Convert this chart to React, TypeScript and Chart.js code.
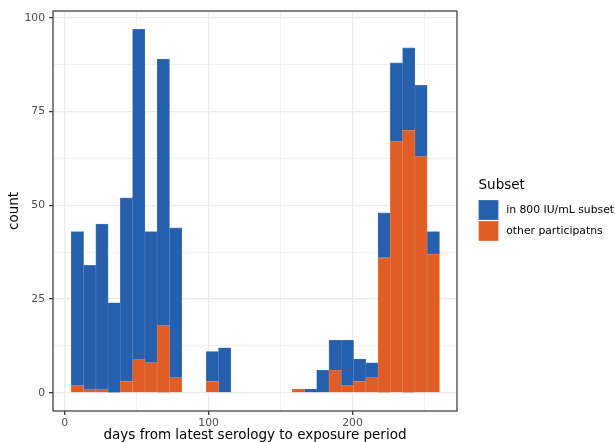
import React, { useEffect, useRef } from 'react';
import { Chart, registerables } from 'chart.js';

Chart.register(...registerables);

// Histogram bin centres (days), 30 bins
const binCenters = [
  8.765, 17.295, 25.825, 34.355, 42.885, 51.415, 59.945, 68.475, 77.005, 85.535,
  94.065, 102.595, 111.125, 119.655, 128.185, 136.715, 145.245, 153.775, 162.305, 170.835,
  179.365, 187.895, 196.425, 204.955, 213.485, 222.015, 230.545, 239.075, 247.605, 256.135,
];
// counts per bin: "other participatns" (bottom of stack)
const otherCounts = [
  2, 1, 1, 0, 3, 9, 8, 18, 4, 0,
  0, 3, 0, 0, 0, 0, 0, 0, 1, 0,
  0, 6, 2, 3, 4, 36, 67, 70, 63, 37,
];
// counts per bin: "in 800 IU/mL subset" (top of stack)
const subsetCounts = [
  41, 33, 44, 24, 49, 88, 35, 71, 40, 0,
  0, 8, 12, 0, 0, 0, 0, 0, 0, 1,
  6, 8, 12, 6, 4, 12, 21, 22, 19, 6,
];
const seriesLabels = ['other participatns', 'in 800 IU/mL subset'];
const xMajorTicks = [0, 100, 200];
const yMajorTicks = [0, 25, 50, 75, 100];

const BLUE = '#2660AC';
const BLUE_EDGE = '#4F7DBB';
const ORANGE = '#E05D26';
const ORANGE_EDGE = '#E8804F';
const FONT = '"DejaVu Sans", "Liberation Sans", sans-serif';

const panelBorder = {
  id: 'panelBorder',
  afterDraw(chart: any) {
    const { ctx, chartArea: a } = chart;
    ctx.save();
    ctx.strokeStyle = '#333333';
    ctx.lineWidth = 1.2;
    ctx.strokeRect(a.left, a.top, a.right - a.left, a.bottom - a.top);
    ctx.restore();
  },
};

const ggLegend = {
  id: 'ggLegend',
  afterDraw(chart: any) {
    const { ctx, chartArea: a } = chart;
    const ds = chart.data.datasets.slice().reverse();
    const x0 = a.right + 21.5;
    const cy = (a.top + a.bottom) / 2;
    ctx.save();
    ctx.textAlign = 'left';
    ctx.textBaseline = 'middle';
    ctx.fillStyle = '#000000';
    ctx.font = `13.5px ${FONT}`;
    ctx.fillText('Subset', x0, cy - 25.3);
    ds.forEach((d: any, i: number) => {
      const top = cy - 11 + i * 21;
      ctx.fillStyle = d.borderColor;
      ctx.fillRect(x0, top, 20, 20);
      ctx.fillStyle = d.backgroundColor;
      ctx.fillRect(x0 + 0.7, top + 0.7, 18.6, 18.6);
      ctx.fillStyle = '#000000';
      ctx.font = `10.8px ${FONT}`;
      ctx.fillText(d.label, x0 + 27.7, top + 10);
    });
    ctx.restore();
  },
};

export default function App() {
  const ref = useRef<HTMLCanvasElement | null>(null);

  useEffect(() => {
    if (!ref.current) return;
    const mk = (vals: number[]) => vals.map((v, i) => ({ x: binCenters[i], y: v }));
    const isMajorX = (v: number) => xMajorTicks.includes(v);
    const isMajorY = (v: number) => yMajorTicks.includes(v);
    const chart = new Chart(ref.current, {
      type: 'bar',
      data: {
        datasets: [
          {
            label: seriesLabels[0],
            data: mk(otherCounts),
            backgroundColor: ORANGE,
            borderColor: ORANGE_EDGE,
            borderWidth: 0.6,
            barPercentage: 1,
            categoryPercentage: 1,
          },
          {
            label: seriesLabels[1],
            data: mk(subsetCounts),
            backgroundColor: BLUE,
            borderColor: BLUE_EDGE,
            borderWidth: 0.6,
            barPercentage: 1,
            categoryPercentage: 1,
          },
        ],
      },
      options: {
        responsive: false,
        animation: false,
        layout: { padding: { left: 0, top: 11, right: 158, bottom: 0 } },
        plugins: { legend: { display: false }, tooltip: { enabled: false } },
        scales: {
          x: {
            type: 'linear',
            stacked: true,
            offset: false,
            min: -8.2,
            max: 272.6,
            afterFit: (s: any) => { s.height = 31; },
            ticks: {
              stepSize: 50,
              includeBounds: false,
              autoSkip: false,
              maxRotation: 0,
              padding: 2,
              color: '#4D4D4D',
              font: { family: FONT, size: 10.8 },
              callback: (v: any) => (isMajorX(v) ? String(v) : ''),
            },
            grid: {
              offset: false,
              drawTicks: true,
              tickLength: 4,
              color: '#EBEBEB',
              lineWidth: (c: any) => (c.tick && isMajorX(c.tick.value) ? 1.3 : 0.65),
              tickColor: (c: any) => (c.tick && isMajorX(c.tick.value) ? '#333333' : 'rgba(0,0,0,0)'),
              tickWidth: 1.2,
            },
            border: { display: false },
            title: {
              display: true,
              text: 'days from latest serology to exposure period',
              color: '#000000',
              font: { family: FONT, size: 13.5, lineHeight: 0.9 },
              padding: { top: 0, bottom: 0 },
            },
          },
          y: {
            stacked: true,
            min: -4.85,
            max: 101.85,
            afterFit: (s: any) => { s.width = 53; },
            ticks: {
              stepSize: 12.5,
              includeBounds: false,
              autoSkip: false,
              padding: 4,
              color: '#4D4D4D',
              font: { family: FONT, size: 10.8 },
              callback: (v: any) => (isMajorY(v) ? String(v) : ''),
            },
            grid: {
              drawTicks: true,
              tickLength: 4,
              color: '#EBEBEB',
              lineWidth: (c: any) => (c.tick && isMajorY(c.tick.value) ? 1.3 : 0.65),
              tickColor: (c: any) => (c.tick && isMajorY(c.tick.value) ? '#333333' : 'rgba(0,0,0,0)'),
              tickWidth: 1.2,
            },
            border: { display: false },
            title: {
              display: true,
              text: 'count',
              color: '#000000',
              font: { family: FONT, size: 13.5, lineHeight: 0.9 },
              padding: { top: 8, bottom: 0 },
            },
          },
        },
      },
      plugins: [panelBorder, ggLegend],
    } as any);
    return () => chart.destroy();
  }, []);

  return (
    <div style={{ position: 'absolute', left: 0, top: 0, width: 615, height: 442, background: '#ffffff' }}>
      <canvas ref={ref} width={615} height={442} style={{ display: 'block' }} />
    </div>
  );
}
